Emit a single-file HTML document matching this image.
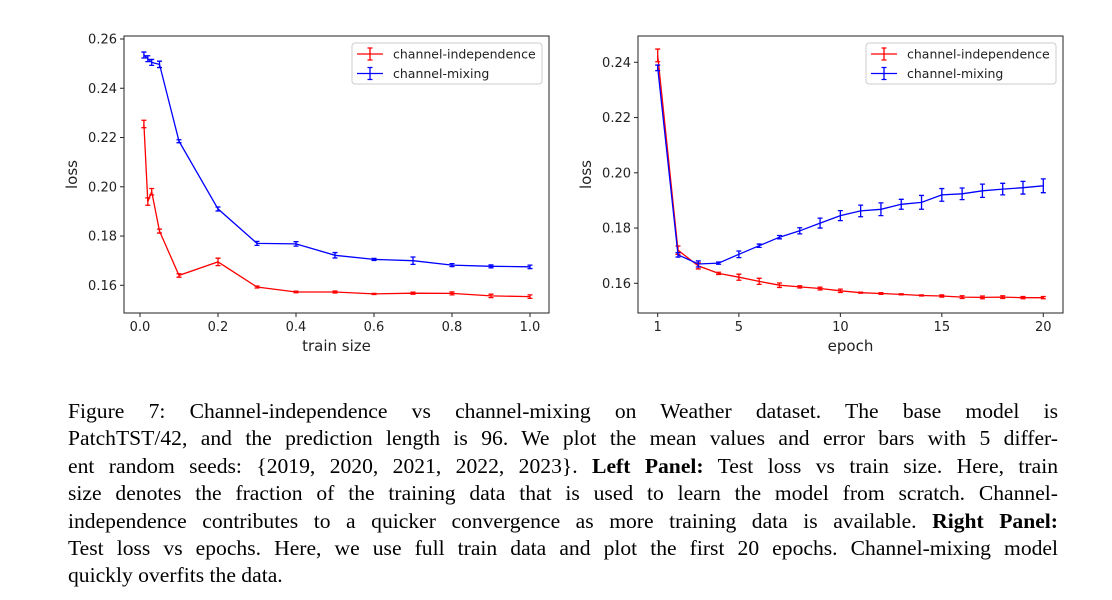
<!DOCTYPE html>
<html><head><meta charset="utf-8">
<style>
body{margin:0;background:#fff;width:1112px;height:600px;overflow:hidden;position:relative}
svg{position:absolute;left:0;top:0}
.cap{position:absolute;left:68px;width:990px;font-family:"Liberation Serif",serif;font-size:21.6px;color:#000}
.cap div{height:27.4px;line-height:27.4px;text-align:justify;text-align-last:justify;white-space:nowrap;overflow:visible}
.cap div.last{text-align-last:left}
text{font-family:"DejaVu Sans",sans-serif;fill:#222}
</style></head><body>
<svg id="chart" width="1112" height="380"></svg>
<div class="cap" style="top:398px">
<div>Figure 7: Channel-independence vs channel-mixing on Weather dataset. The base model is</div>
<div>PatchTST/42, and the prediction length is 96. We plot the mean values and error bars with 5 differ-</div>
<div>ent random seeds: {2019, 2020, 2021, 2022, 2023}. <b>Left Panel:</b> Test loss vs train size. Here, train</div>
<div>size denotes the fraction of the training data that is used to learn the model from scratch. Channel-</div>
<div>independence contributes to a quicker convergence as more training data is available. <b>Right Panel:</b></div>
<div>Test loss vs epochs. Here, we use full train data and plot the first 20 epochs. Channel-mixing model</div>
<div class="last">quickly overfits the data.</div>
</div>
<script>
const leftX=[0.01,0.02,0.03,0.05,0.1,0.2,0.3,0.4,0.5,0.6,0.7,0.8,0.9,1.0];
const leftRed=[0.2255,0.194,0.198,0.182,0.164,0.1695,0.1593,0.1573,0.1573,0.1565,0.1568,0.1567,0.1557,0.1554];
const leftRedErr=[0.0015,0.0015,0.0013,0.0008,0.0007,0.0015,0.0004,0.0003,0.0004,0.0002,0.0004,0.0006,0.0007,0.0007];
const leftBlue=[0.2535,0.252,0.2505,0.2497,0.2185,0.191,0.177,0.1768,0.1722,0.1705,0.170,0.1682,0.1677,0.1675];
const leftBlueErr=[0.0012,0.0012,0.0012,0.0013,0.0006,0.0008,0.0008,0.0009,0.0011,0.0004,0.0015,0.0006,0.0006,0.0007];
const leftXTicks=[0,0.2,0.4,0.6,0.8,1.0];
const leftXLabels=["0.0","0.2","0.4","0.6","0.8","1.0"];
const leftYTicks=[0.16,0.18,0.20,0.22,0.24,0.26];
const rightX=[1,2,3,4,5,6,7,8,9,10,11,12,13,14,15,16,17,18,19,20];
const rightRed=[0.2425,0.172,0.1663,0.1636,0.1622,0.1607,0.1593,0.1587,0.1581,0.1573,0.1566,0.1563,0.156,0.1556,0.1554,0.155,0.1549,0.155,0.1548,0.1548];
const rightRedErr=[0.0023,0.0015,0.0011,0.0004,0.0011,0.0011,0.0008,0.0004,0.0005,0.0006,0.0002,0.0003,0.0002,0.0002,0.0004,0.0005,0.0005,0.0005,0.0004,0.0004];
const rightBlue=[0.238,0.1703,0.167,0.1673,0.1705,0.1736,0.1767,0.179,0.1818,0.1845,0.1862,0.1868,0.1886,0.1893,0.192,0.1924,0.1935,0.1941,0.1946,0.1953];
const rightBlueErr=[0.001,0.0008,0.0011,0.0004,0.0012,0.0006,0.0006,0.0011,0.0018,0.0018,0.0021,0.0023,0.0018,0.0025,0.0023,0.0021,0.0024,0.0021,0.0023,0.0025];
const rightXTicks=[1,5,10,15,20];
const rightYTicks=[0.16,0.18,0.20,0.22,0.24];

const svg=document.getElementById('chart');
const NS='http://www.w3.org/2000/svg';
function mk(tag,at){const e=document.createElementNS(NS,tag);for(const k in at)e.setAttribute(k,at[k]);svg.appendChild(e);return e;}

function panel(P){
  const sx=v=>P.x0+(v-P.xa)/(P.xb-P.xa)*(P.x1-P.x0);
  const sy=v=>P.y0+(v-P.ya)/(P.yb-P.ya)*(P.y1-P.y0);
  const f=mk('rect',{x:P.L,y:P.T,width:P.R-P.L,height:P.B-P.T,fill:'none',stroke:'#222','stroke-width':1});
  
  
  P.xt.forEach((v,i)=>{
    const X=sx(v);
    const tk=mk('line',{x1:X,x2:X,y1:P.B,y2:P.B+4,stroke:'#222'});
    
    
    const t=mk('text',{x:X,y:P.B+18,'font-size':13,'text-anchor':'middle'});t.textContent=P.xl[i];
    
    
  });
  P.yt.forEach(v=>{
    const Y=sy(v);
    const tk=mk('line',{x1:P.L-4,x2:P.L,y1:Y,y2:Y,stroke:'#222'});
    
    
    const t=mk('text',{x:P.L-7,y:Y+4.5,'font-size':13,'text-anchor':'end'});t.textContent=v.toFixed(2);
    
    
  });
  const xl=mk('text',{x:(P.L+P.R)/2,y:P.B+38,'font-size':15,'text-anchor':'middle'});xl.textContent=P.xlabel;
  
  
  const cy=(P.T+P.B)/2;
  const yl=mk('text',{x:P.L-47,y:cy,'font-size':15,'text-anchor':'middle',transform:`rotate(-90 ${P.L-47} ${cy})`});yl.textContent='loss';
  
  
  P.series.forEach(s=>{
    const pts=P.xs.map((x,i)=>sx(x).toFixed(1)+','+sy(s.v[i]).toFixed(1)).join(' ');
    const pl=mk('polyline',{points:pts,fill:'none',stroke:s.c,'stroke-width':1.3});
    
    
    P.xs.forEach((x,i)=>{
      const X=sx(x),a=sy(s.v[i]-s.e[i]),b=sy(s.v[i]+s.e[i]);
      const g=mk('path',{d:`M${X},${a}V${b}M${X-2.5},${a}H${X+2.5}M${X-2.5},${b}H${X+2.5}`,stroke:s.c,'stroke-width':1.3,fill:'none'});
      
      
    });
  });
  const lx=P.legX, ly=P.T+7;
  const lb=mk('rect',{x:lx,y:ly,width:190,height:41,rx:3,fill:'#fff',stroke:'#ccc'});
  
  
  [['channel-independence','red'],['channel-mixing','blue']].forEach((l,i)=>{
    const yy=ly+11+i*19.5;
    const g=mk('path',{d:`M${lx+5},${yy}H${lx+31}M${lx+18},${yy-6}V${yy+6}M${lx+15.5},${yy-6}H${lx+20.5}M${lx+15.5},${yy+6}H${lx+20.5}`,stroke:l[1],'stroke-width':1.3,fill:'none'});
    
    
    const t=mk('text',{x:lx+41,y:yy+4.5,'font-size':12.5});t.textContent=l[0];
    
    
  });
}
panel({name:'left',L:124,R:549,T:36,B:313,xa:0,xb:1,x0:140,x1:530,ya:0.16,yb:0.26,y0:285.3,y1:39,
  xt:leftXTicks,xl:leftXLabels,yt:leftYTicks,xlabel:'train size',xs:leftX,legX:352,
  series:[{n:'channel-independence',c:'red',v:leftRed,e:leftRedErr},{n:'channel-mixing',c:'blue',v:leftBlue,e:leftBlueErr}]});
panel({name:'right',L:638,R:1063,T:36,B:313,xa:1,xb:20,x0:657.7,x1:1043.3,ya:0.16,yb:0.24,y0:283.3,y1:62.3,
  xt:rightXTicks,xl:rightXTicks.map(String),yt:rightYTicks,xlabel:'epoch',xs:rightX,legX:866,
  series:[{n:'channel-independence',c:'red',v:rightRed,e:rightRedErr},{n:'channel-mixing',c:'blue',v:rightBlue,e:rightBlueErr}]});
</script>
</body></html>
